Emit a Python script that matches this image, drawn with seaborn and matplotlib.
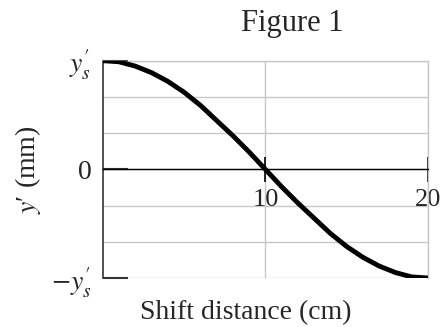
import matplotlib
matplotlib.use('Agg')
import matplotlib.pyplot as plt
import seaborn as sns
import pandas as pd

# Curve (y in units of y_s')
shift_cm = [0, 1, 2, 3, 4, 5, 6, 7, 8, 9, 10, 11, 12, 13, 14, 15, 16, 17, 18, 19, 20]
y_rel = [1.00, 0.99, 0.95, 0.89, 0.81, 0.71, 0.59, 0.45, 0.31, 0.16, 0.00,
         -0.16, -0.31, -0.45, -0.59, -0.71, -0.81, -0.89, -0.95, -0.99, -1.00]

x_ticks = [10, 20]
x_tick_labels = ['10', '20']
y_grid = [-1, -2 / 3, -1 / 3, 0, 1 / 3, 2 / 3, 1]
y_ticks = [-1, 0, 1]
y_tick_labels = [r"$-y^{\prime}_{s}$", '0', r"$y^{\prime}_{s}$"]

sns.set_style('white')
plt.rcParams['font.family'] = ['Liberation Serif', 'DejaVu Serif']
plt.rcParams['mathtext.fontset'] = 'stix'

df = pd.DataFrame({'shift': shift_cm, 'y': y_rel})

fig = plt.figure(figsize=(4.46, 3.27), dpi=100)
ax = fig.add_axes([0.2303, 0.1498, 0.7294, 0.6646])

grid_col = '#c8c8c8'
for yv in y_grid:
    ax.axhline(yv, color=grid_col, lw=1.0, zorder=0)
ax.axvline(10, color=grid_col, lw=1.0, zorder=0)
ax.axvline(20, color=grid_col, lw=1.0, zorder=0)

sns.lineplot(data=df, x='shift', y='y', color='black', lw=3.5, ax=ax, zorder=3)

ax.set_xlim(0, 20)
ax.set_ylim(-1, 1)

# x axis at y = 0
ax.spines['bottom'].set_position(('data', 0))
ax.spines['bottom'].set_color('black')
ax.spines['bottom'].set_linewidth(1.0)
ax.spines['left'].set_color('#333333')
ax.spines['left'].set_linewidth(1.2)
for s in ['top', 'right']:
    ax.spines[s].set_color(grid_col)
    ax.spines[s].set_linewidth(1.0)

ax.set_xticks(x_ticks)
ax.set_xticklabels(x_tick_labels, fontsize=19)
ax.tick_params(axis='x', bottom=True, direction='inout', length=18, width=1.2,
               color='black', pad=5)

ax.set_yticks(y_ticks)
ax.set_yticklabels(y_tick_labels, fontsize=20)
ax.tick_params(axis='y', left=True, direction='in', length=18, width=1.5,
               color='#333333', pad=8)

ax.set_xlabel('Shift distance (cm)', fontsize=20)
ax.xaxis.set_label_coords(0.44, -0.16)
ax.xaxis.label.set_va('center')
ax.set_ylabel("$y$\u2032 (mm)", fontsize=20)
ax.yaxis.set_label_coords(-0.23, 0.5)
ax.yaxis.label.set_va('center')

fig.text(0.655, 0.905, 'Figure 1', fontsize=22, ha='center', va='baseline')

fig.savefig('out.png', dpi=100)
